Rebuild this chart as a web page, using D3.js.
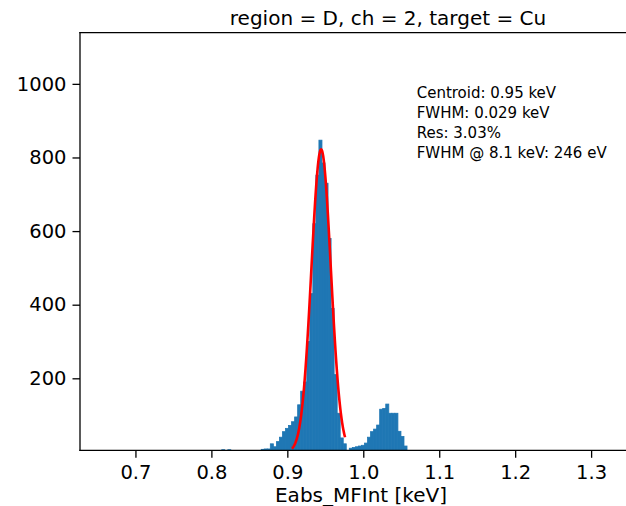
<!DOCTYPE html>
<html>
<head>
<meta charset="utf-8">
<script src="https://cdn.jsdelivr.net/npm/d3@7"></script>
<style>
  body { margin: 0; background: #fff; }
  text { font-family: "DejaVu Sans", sans-serif; fill: #000; }
</style>
</head>
<body>
<div class="chart"></div>
<script>

// histogram: lower edge of first bin, bin width, counts per bin (keV)
var binStart = 0.8136;
var binWidth = 0.004;
var counts = [
  6, 0, 6, 0, 0, 0, 0, 0, 0, 0, 0, 0,
  0, 7, 8, 8, 22, 14, 28, 40, 55, 64, 72, 82,
  95, 128, 165, 190, 300, 430, 620, 752, 847, 785, 730, 580,
  390, 210, 105, 38, 22, 4, 10, 12, 14, 16, 18, 24,
  40, 55, 62, 73, 116, 118, 130, 105, 105, 105, 56, 42,
  16
];

// gaussian fit shown in red
var fitCentroid = 0.9445;
var fitSigma = 0.0128;
var fitAmp = 822;
var fitRange = [0.906, 0.976];

var xTicks = [0.7, 0.8, 0.9, 1.0, 1.1, 1.2, 1.3];
var yTicks = [200, 400, 600, 800, 1000];

var titleText = "region = D, ch = 2, target = Cu";
var xLabelText = "Eabs_MFInt [keV]";
var infoLines = [
  "Centroid: 0.95 keV",
  "FWHM: 0.029 keV",
  "Res: 3.03%",
  "FWHM @ 8.1 keV: 246 eV"
];

var svgWidth = 626;
var svgHeight = 506;

var margin = { top: 32.7, bottom: 55.7, left: 80, right: -16 };
var width = svgWidth - margin.left - margin.right;
var height = svgHeight - margin.top - margin.bottom;

var svg = d3.select(".chart")
  .append("svg")
  .attr("width", svgWidth)
  .attr("height", svgHeight);

svg.append("defs").append("clipPath")
  .attr("id", "plotClip")
  .append("rect")
  .attr("width", width)
  .attr("height", height);

var chart = svg.append("g")
  .attr("transform", `translate(${margin.left}, ${margin.top})`);

var x = d3.scaleLinear()
  .domain([0.627, 1.367])
  .range([0, width]);

var y = d3.scaleLinear()
  .domain([4.4, 1139])
  .range([height, 0]);

// bins
var bins = counts.map(function(c, i) {
  return { x0: binStart + i * binWidth, x1: binStart + (i + 1) * binWidth, n: c };
});

var plot = chart.append("g").attr("clip-path", "url(#plotClip)");

plot.append("g")
  .selectAll("rect")
  .data(bins.filter(function(d) { return d.n > y.domain()[0]; }))
  .enter().append("rect")
    .attr("x", function(d) { return x(d.x0); })
    .attr("y", function(d) { return y(d.n); })
    .attr("width", function(d) { return x(d.x1) - x(d.x0); })
    .attr("height", function(d) { return height - y(d.n); })
    .attr("fill", "#1f77b4")
    .attr("stroke", "#1f77b4")
    .attr("stroke-width", 0.8);

// fit curve
var fitPts = d3.range(0, 201).map(function(i) {
  var e = fitRange[0] + (fitRange[1] - fitRange[0]) * i / 200;
  var z = (e - fitCentroid) / fitSigma;
  return [e, fitAmp * Math.exp(-0.5 * z * z)];
});

plot.append("path")
  .datum(fitPts)
  .attr("fill", "none")
  .attr("stroke", "#ff0000")
  .attr("stroke-width", 2.6)
  .attr("d", d3.line()
    .x(function(d) { return x(d[0]); })
    .y(function(d) { return y(d[1]); }));

// axes
var xAxis = chart.append("g")
  .attr("transform", "translate(0," + height + ")")
  .call(d3.axisBottom(x).tickValues(xTicks).tickFormat(d3.format(".1f"))
    .tickSize(7.5).tickPadding(7).tickSizeOuter(0));

var yAxis = chart.append("g")
  .call(d3.axisLeft(y).tickValues(yTicks).tickFormat(d3.format("d"))
    .tickSize(7.5).tickPadding(6).tickSizeOuter(0));

[xAxis, yAxis].forEach(function(a) {
  a.select(".domain").remove();
  a.selectAll(".tick line").attr("stroke", "#000").attr("stroke-width", 1.3);
  a.selectAll(".tick text")
    .attr("fill", "#000")
    .style("font-family", "DejaVu Sans")
    .style("font-size", "19.5px");
});

// spines
var spines = [
  [0, 0, 0, height],
  [0, height, width, height],
  [0, 0, width, 0],
  [width, 0, width, height]
];
chart.append("g")
  .selectAll("line")
  .data(spines)
  .enter().append("line")
    .attr("x1", function(d) { return d[0]; })
    .attr("y1", function(d) { return d[1]; })
    .attr("x2", function(d) { return d[2]; })
    .attr("y2", function(d) { return d[3]; })
    .attr("stroke", "#000")
    .attr("stroke-width", 1.3)
    .attr("stroke-linecap", "square");

// title, label, fit info
svg.append("text")
  .attr("x", 388)
  .attr("y", 25)
  .attr("text-anchor", "middle")
  .style("font-size", "20px")
  .text(titleText);

svg.append("text")
  .attr("x", 361)
  .attr("y", 502)
  .attr("text-anchor", "middle")
  .style("font-size", "20px")
  .text(xLabelText);

svg.append("g")
  .selectAll("text")
  .data(infoLines)
  .enter().append("text")
    .attr("x", 416.7)
    .attr("y", function(d, i) { return 97.7 + i * 20; })
    .style("font-size", "15px")
    .text(function(d) { return d; });

</script>
</body>
</html>
